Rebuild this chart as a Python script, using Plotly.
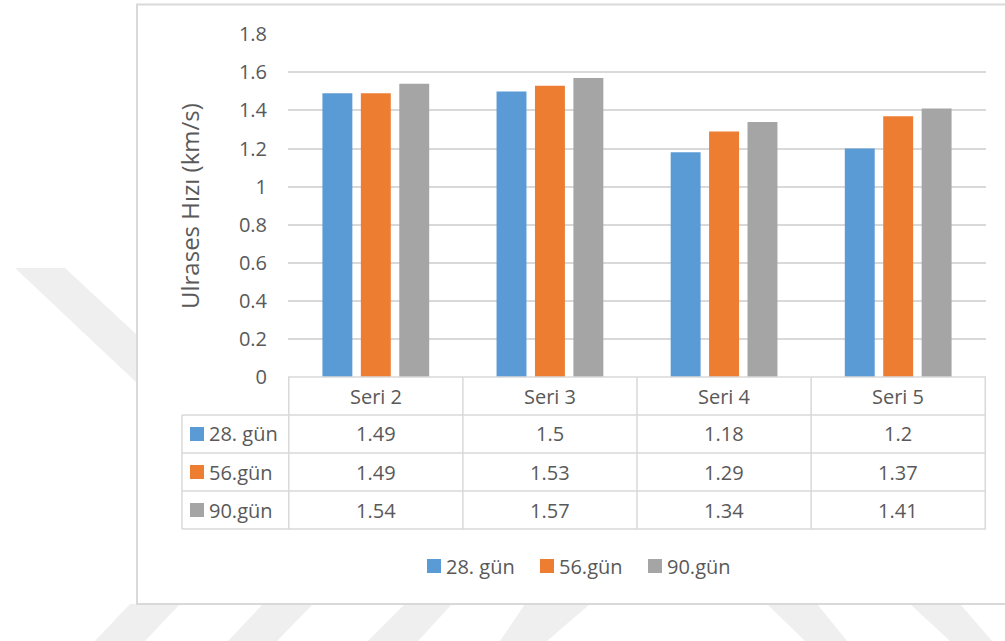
import plotly.graph_objects as go

# --- data ---------------------------------------------------------------
categories = ["Seri 2", "Seri 3", "Seri 4", "Seri 5"]
series_names = ["28. gün", "56.gün", "90.gün"]
gun28 = [1.49, 1.5, 1.18, 1.2]
gun56 = [1.49, 1.53, 1.29, 1.37]
gun90 = [1.54, 1.57, 1.34, 1.41]
series_values = [gun28, gun56, gun90]
colors = ["#5B9BD5", "#ED7D31", "#A5A5A5"]
y_ticks = [0, 0.2, 0.4, 0.6, 0.8, 1, 1.2, 1.4, 1.6, 1.8]
y_title = "Ulrases Hızı (km/s)"

# --- geometry helpers (page is 1005 x 641 px) -------------------------
W, H = 1005, 641
FONT = "Open Sans"
TXT = "#595959"
LINE = "#D9D9D9"


def px(x):
    return x / W


def py(y):
    return 1 - y / H


fig = go.Figure()
for name, vals, col in zip(series_names, series_values, colors):
    fig.add_trace(go.Bar(x=categories, y=vals, name=name, marker_color=col,
                         marker_line_width=0, showlegend=False))

shapes = []
annotations = []

# faint diagonal watermark bands behind the chart frame
bands = [
    [(15, 268), (65, 268), (137, 335), (137, 383)],
    [(95, 641), (145, 641), (180, 604), (130, 604)],
    [(228, 641), (277, 641), (313, 604), (263, 604)],
    [(368, 641), (418, 641), (452, 604), (405, 604)],
    [(500, 641), (547, 641), (590, 604), (525, 604)],
    [(805, 641), (847, 641), (817, 604), (767, 604)],
    [(950, 641), (992, 641), (960, 604), (910, 604)],
]
for pts in bands:
    path = "M " + " L ".join(f"{px(x):.5f},{py(y):.5f}" for x, y in pts) + " Z"
    shapes.append(dict(type="path", path=path, xref="paper", yref="paper",
                       fillcolor="#EFEFEF", line=dict(width=0), layer="below"))

# chart frame
shapes.append(dict(type="rect", xref="paper", yref="paper",
                   x0=px(137), x1=px(1012), y0=py(604), y1=py(4.5),
                   fillcolor="white", line=dict(color=LINE, width=2),
                   layer="below"))

# data table under the plot
row_y = [377, 415, 453, 491, 529]
tbl_left = 182
plot_left, plot_right = 288, 986
n = len(categories)
# horizontal rules
shapes.append(dict(type="line", xref="paper", yref="paper",
                   x0=px(plot_left), x1=px(plot_right),
                   y0=py(row_y[0]), y1=py(row_y[0]),
                   line=dict(color=LINE, width=1.5)))
for yy in row_y[1:]:
    shapes.append(dict(type="line", xref="paper", yref="paper",
                       x0=px(tbl_left), x1=px(plot_right), y0=py(yy), y1=py(yy),
                       line=dict(color=LINE, width=1.5)))
# vertical rules at category boundaries
for k in range(n + 1):
    shapes.append(dict(type="line", xref="x", yref="paper",
                       x0=k - 0.5, x1=k - 0.5, y0=py(row_y[0]), y1=py(row_y[-1]),
                       line=dict(color=LINE, width=1.5)))
shapes.append(dict(type="line", xref="paper", yref="paper",
                   x0=px(tbl_left), x1=px(tbl_left), y0=py(row_y[1]), y1=py(row_y[-1]),
                   line=dict(color=LINE, width=1.5)))

fs = 20
# header row
for k, cat in enumerate(categories):
    annotations.append(dict(x=k, xref="x", y=py((row_y[0] + row_y[1]) / 2),
                            yref="paper", yanchor="middle", text=cat,
                            showarrow=False,
                            font=dict(family=FONT, size=fs, color=TXT)))
# series rows
for r, (name, vals, col) in enumerate(zip(series_names, series_values, colors)):
    yc = (row_y[r + 1] + row_y[r + 2]) / 2
    shapes.append(dict(type="rect", xref="paper", yref="paper",
                       x0=px(190), x1=px(204), y0=py(yc + 7), y1=py(yc - 7),
                       fillcolor=col, line=dict(width=0)))
    annotations.append(dict(x=px(207), xref="paper", y=py(yc), yref="paper",
                            yanchor="middle", text=name, showarrow=False,
                            xanchor="left",
                            font=dict(family=FONT, size=fs, color=TXT)))
    for k, v in enumerate(vals):
        annotations.append(dict(x=k, xref="x", y=py(yc), yref="paper",
                                yanchor="middle", text=str(v), showarrow=False,
                                font=dict(family=FONT, size=fs, color=TXT)))

# legend below the table
leg_y = 566
leg_x = [427, 540, 648]
for name, col, lx in zip(series_names, colors, leg_x):
    shapes.append(dict(type="rect", xref="paper", yref="paper",
                       x0=px(lx), x1=px(lx + 14), y0=py(leg_y + 7), y1=py(leg_y - 7),
                       fillcolor=col, line=dict(width=0)))
    annotations.append(dict(x=px(lx + 17), xref="paper", y=py(leg_y), yref="paper",
                            yanchor="middle", text=name, showarrow=False,
                            xanchor="left",
                            font=dict(family=FONT, size=fs, color=TXT)))

# y-axis title
annotations.append(dict(x=px(190), xref="paper", y=py(206), yref="paper",
                        xanchor="center", yanchor="middle",
                        text=y_title, textangle=-90, showarrow=False,
                        font=dict(family=FONT, size=24, color=TXT)))

fig.update_layout(
    width=W, height=H,
    margin=dict(l=0, r=0, t=0, b=0, pad=0),
    paper_bgcolor="white",
    plot_bgcolor="rgba(0,0,0,0)",
    barmode="group",
    bargap=0.338,
    bargroupgap=0.221,
    font=dict(family=FONT, size=fs, color=TXT),
    xaxis=dict(domain=[px(plot_left), px(plot_right)], showticklabels=False,
               showgrid=False, zeroline=False, showline=False, ticks="",
               automargin=False),
    yaxis=dict(domain=[py(377), py(34.3)], range=[0, 1.8], tickvals=y_ticks,
               showgrid=True, gridcolor=LINE, gridwidth=1.5, zeroline=False,
               showline=False, ticks="", ticklabelstandoff=20, automargin=False,
               tickfont=dict(family=FONT, size=fs, color=TXT)),
    shapes=shapes,
    annotations=annotations,
)

fig.write_html("out.html")
